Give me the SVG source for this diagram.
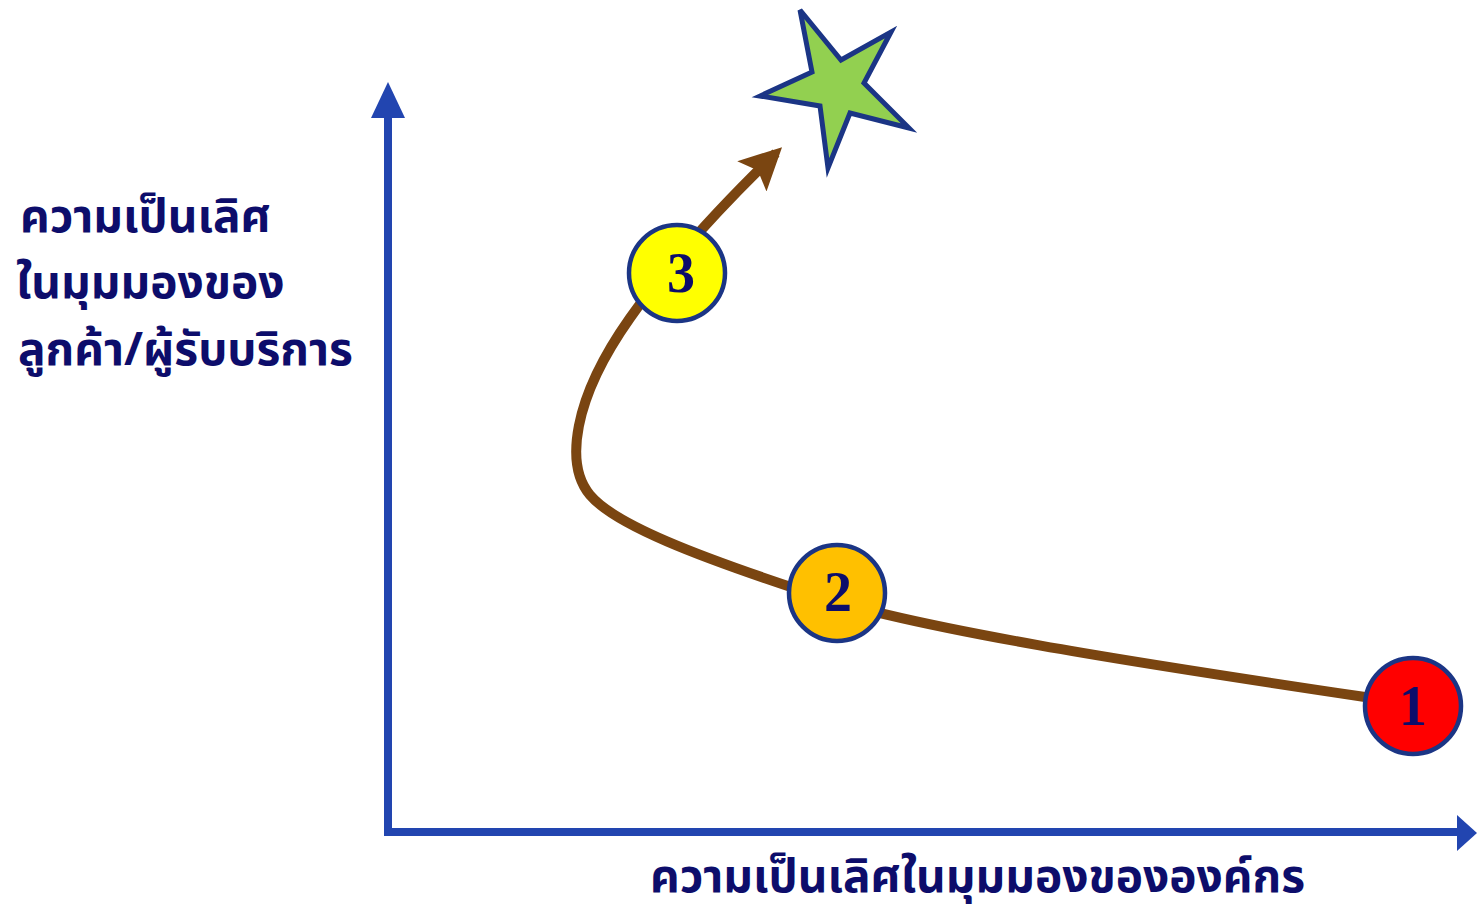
<svg xmlns="http://www.w3.org/2000/svg" width="1477" height="912" viewBox="0 0 1477 912">
<style>
.lbl{font-family:"Noto Sans Thai","Noto Sans","Liberation Sans",sans-serif;font-weight:bold;fill:#0d0d6b;font-size:46px}
.num{font-family:"Liberation Serif","DejaVu Serif",serif;font-weight:bold;fill:#0d0d6b;font-size:56px;text-anchor:middle}
.node{stroke:#1b3585;stroke-width:4.5}
.axis{stroke:#2245b0;stroke-width:8;fill:none}
</style>
<defs>
<marker id="brownArrow" viewBox="0 0 10 10" refX="8" refY="5" markerWidth="4.2" markerHeight="4.2" markerUnits="strokeWidth" orient="auto">
<path d="M0,0 L10,5 L0,10 L2,5 Z" fill="#7a4511"/>
</marker>
</defs>
<g id="axes">
<line class="axis" x1="388" y1="112" x2="388" y2="836"/>
<polygon points="388,82 371,118 405,118" fill="#2245b0"/>
<line class="axis" x1="384" y1="832" x2="1460" y2="832"/>
<polygon points="1477,833 1457,815 1457,851" fill="#2245b0"/>
</g>
<g id="connectors">
<path d="M1365,697 C1150,665 900,627 800,590 C700,557 615,525 590,495 C565,465 572,400 630,318 C665,268 712,215 776,153" fill="none" stroke="#7a4511" stroke-width="10" marker-end="url(#brownArrow)"/>
</g>
<g id="star">
<polygon points="800,10 841,60 891,32 864,83 909,128 850,113 828,168 820,106 760,96 812,72" fill="#92d050" stroke="#1b3585" stroke-width="5" stroke-linejoin="miter"/>
</g>
<g id="node3">
<circle class="node" cx="677" cy="273" r="48" fill="#ffff00"/>
<text class="num" x="681" y="292">3</text>
</g>
<g id="node2">
<circle class="node" cx="837" cy="593" r="48" fill="#ffc000"/>
<text class="num" x="838" y="611">2</text>
</g>
<g id="node1">
<circle class="node" cx="1413" cy="706" r="48" fill="#ff0000"/>
<text class="num" x="1413" y="725">1</text>
</g>
<g id="ylabel">
<text class="lbl" x="20" y="232">ความเป็นเลิศ</text>
<text class="lbl" x="16" y="298">ในมุมมองของ</text>
<text class="lbl" x="18" y="365">ลูกค้า/ผู้รับบริการ</text>
</g>
<g id="xlabel">
<text class="lbl" x="650" y="892">ความเป็นเลิศในมุมมองขององค์กร</text>
</g>
</svg>
